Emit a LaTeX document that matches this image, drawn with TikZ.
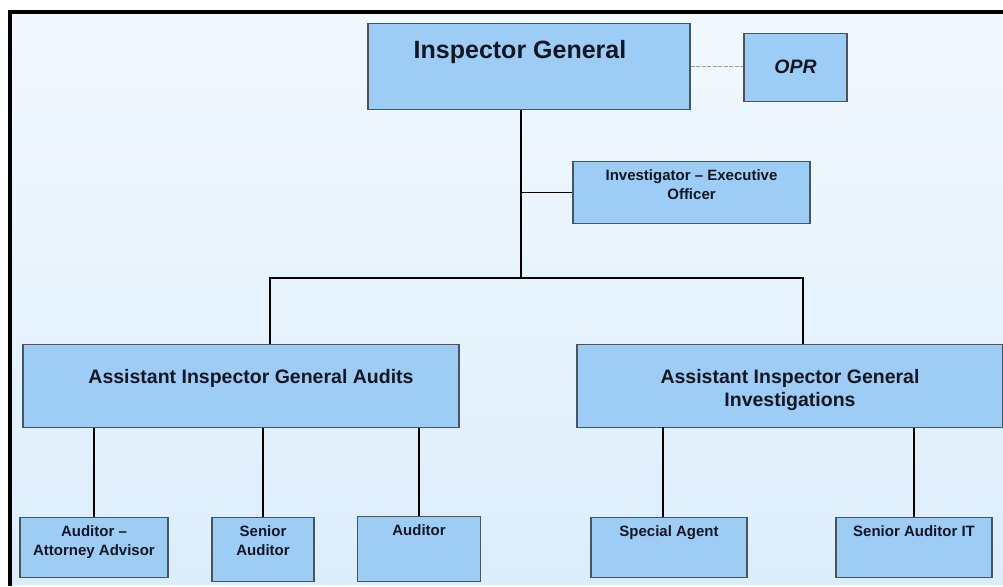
\documentclass[tikz,border=0pt]{standalone}
\usepackage{fontspec}
\setmainfont{Liberation Sans}
\usepackage{xcolor}
\definecolor{boxblue}{RGB}{157,205,245}
\definecolor{boxline}{RGB}{72,84,96}
\definecolor{bgtop}{RGB}{242,249,254}
\definecolor{bgbottom}{RGB}{220,237,250}
\definecolor{inktext}{RGB}{20,22,35}

\begin{document}
\begin{tikzpicture}[x=1pt,y=-1pt,line width=1.8pt,
				box node/.style={rectangle,draw=boxline,line width=1.1pt,fill=boxblue,inner sep=0pt,align=center,text=inktext,anchor=north},
				head text/.style={font=\bfseries\fontsize{25}{30}\selectfont},
				big text/.style={font=\bfseries\fontsize{19.5}{23}\selectfont},
				slanted text/.style={font=\bfseries\itshape\fontsize{19.5}{23}\selectfont},
				small text/.style={font=\bfseries\fontsize{15}{19}\selectfont}]
				
				\useasboundingbox (0,0) rectangle (1003,586);
				\fill[white] (0,0) rectangle (1003,586);
				\shade[top color=bgtop,bottom color=bgbottom] (10,12) rectangle (1003,584);
				\draw[line width=3.5pt] (10,586) -- (10,12) -- (1003,12);
				
				\node[box node,head text,minimum width=322pt,text height=35pt,text depth=51pt] (ig) at (529,23) {Inspector General\hspace*{18pt}};
				\node[box node,slanted text,minimum width=103pt,text height=40pt,text depth=28pt] (opr) at (795.5,33) {OPR};
				\node[box node,small text,minimum width=237pt,text height=38pt,text depth=24pt] (ieo) at (691.5,161) {Investigator -- Executive\\Officer};
				\node[box node,big text,minimum width=436pt,text height=39pt,text depth=44pt] (aiga) at (241,344) {\hspace*{20pt}Assistant Inspector General Audits};
				\node[box node,big text,minimum width=426pt,text height=62pt,text depth=21pt] (aigi) at (790,344) {Assistant Inspector General\\Investigations};
				\node[box node,small text,minimum width=148pt,text height=38pt,text depth=22pt] (aa) at (94,517) {Auditor --\\Attorney Advisor};
				\node[box node,small text,minimum width=102pt,text height=38pt,text depth=26pt] (sa) at (263,517) {Senior\\Auditor};
				\node[box node,small text,minimum width=123pt,text height=19pt,text depth=46pt] (au) at (419,516) {Auditor};
				\node[box node,small text,minimum width=156pt,text height=19pt,text depth=41pt] (sp) at (669,517) {Special Agent};
				\node[box node,small text,minimum width=156pt,text height=19pt,text depth=41pt] (sit) at (914,517) {Senior Auditor IT};
				
				\coordinate (trunk) at (521,278);
				\coordinate (split l) at (270,278);
				\coordinate (split r) at (803,278);
				\coordinate (agent drop) at (663,427);
				
				\draw[boxline!55,line width=0.7pt,dash pattern=on 4pt off 1.5pt] (ig.east) -- (ig.east -| opr.west);
				\path[draw]
				(ig.south -| trunk) -- (trunk)
				(ieo.west) -- (ieo.west -| trunk)
				(aiga.north -| split l) -- (split l) -- (split r) -- (aigi.north -| split r)
				(agent drop) -- (sp.north -| agent drop)
				;
				\foreach \kid in {aa,sa,au}
				\draw (\kid.north) -- (\kid.north |- aiga.south);
				\foreach \kid in {sit}
				\draw (\kid.north) -- (\kid.north |- aigi.south);
\end{tikzpicture}
\end{document}
